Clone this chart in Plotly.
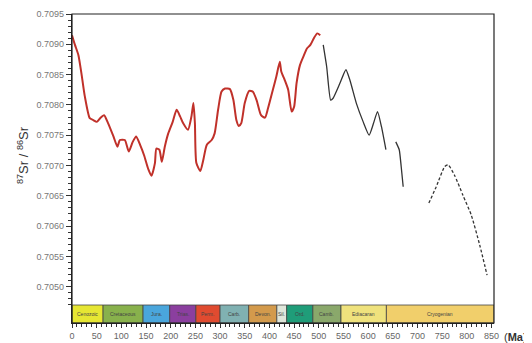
import plotly.graph_objects as go

# ---- data ----
red_age = [0, 6, 13, 20, 26, 36, 43, 50, 57, 65, 73, 84, 92, 97, 107, 115, 123, 130, 138, 146, 155, 161,
           168, 171, 177, 182, 188, 195, 204, 212, 219, 225, 235, 242, 246, 249, 252, 260, 266, 273, 283,
           289, 296, 303, 310, 320, 327, 333, 338, 343, 350, 359, 366, 374, 383, 391, 397, 407, 414, 421,
           424, 431, 438, 445, 450, 455, 462, 470, 476, 483, 490, 497, 503]
red_sr = [0.70915, 0.70899, 0.70882, 0.70847, 0.70814, 0.70778, 0.70775, 0.70772, 0.70778, 0.70783,
          0.70770, 0.70748, 0.70731, 0.70742, 0.70742, 0.70723, 0.70739, 0.70748, 0.70734, 0.70717,
          0.70693, 0.70683, 0.70704, 0.70728, 0.70726, 0.70706, 0.70731, 0.70753, 0.70772, 0.70792,
          0.70781, 0.70770, 0.70759, 0.70781, 0.70803, 0.70770, 0.70704, 0.70691, 0.70709, 0.70734,
          0.70742, 0.70753, 0.70792, 0.70822, 0.70827, 0.70826, 0.70808, 0.70775, 0.70765, 0.70770,
          0.70803, 0.70823, 0.70822, 0.70808, 0.70783, 0.70779, 0.70794, 0.70825, 0.70847, 0.70871,
          0.70855, 0.70841, 0.70825, 0.70789, 0.70797, 0.70836, 0.70866, 0.70882, 0.70893, 0.70899,
          0.70910, 0.70918, 0.70915]

black1_age = [509, 516, 524, 529, 543, 555, 563, 576, 590, 602, 611, 619, 627, 636]
black1_sr = [0.70899, 0.70863, 0.70808, 0.70811, 0.70836, 0.70858, 0.70841, 0.70803, 0.70772,
             0.70750, 0.70770, 0.70789, 0.70764, 0.70726]

black2_age = [656, 663, 667, 671]
black2_sr = [0.70739, 0.70726, 0.70698, 0.70665]

dash_age = [723, 738, 755, 762, 775, 792, 809, 826, 841]
dash_sr = [0.70638, 0.70665, 0.70698, 0.70701, 0.70684, 0.70651, 0.70618, 0.70569, 0.70519]

period_names = ["Cenozoic", "Cretaceous", "Jura.", "Trias.", "Perm.", "Carb.", "Devon.", "Sil.",
                "Ord.", "Camb.", "Ediacaran", "Cryogenian"]
period_start = [0, 63, 144, 198, 251, 300, 358, 415, 435, 488, 545, 637]
period_end = [63, 144, 198, 251, 300, 358, 415, 435, 488, 545, 637, 855]
period_colors = ["#e6e633", "#88b14c", "#4aa6dc", "#8b3f9f", "#e04b30", "#80b1b2", "#d39a4c",
                 "#dfe6da", "#1f9d79", "#8aa86b", "#efe27d", "#f1cf6b"]

x_tick_vals = [0, 50, 100, 150, 200, 250, 300, 350, 400, 450, 500, 550, 600, 650, 700, 750, 800, 850]
y_tick_vals = [0.7050, 0.7055, 0.7060, 0.7065, 0.7070, 0.7075, 0.7080, 0.7085, 0.7090, 0.7095]

# page body has an 8px default margin: size the figure so it fills the 532x343 window
OFF = 8
W, H = 532 - OFF, 343 - OFF
L, R, T, B = 72 - OFF, 38, 14 - OFF, 20
plot_w = W - L - R
plot_h = H - T - B
PX_PER_UNIT = 60.6 / 0.001          # pixels per Sr-ratio unit
y_top = 0.7095
y_bottom = y_top - plot_h / PX_PER_UNIT      # bottom of whole plot (bottom of time bar)
bar_top = y_bottom + 18 / PX_PER_UNIT        # top of the time bar

y_minor = [round(0.7047 + i * 0.0001, 4) for i in range(49)]
y_minor = [v for v in y_minor if v not in y_tick_vals]

fig = go.Figure()
fig.add_trace(go.Scatter(x=red_age, y=red_sr, mode="lines",
                         line=dict(color="#c0312a", width=2, shape="spline", smoothing=0.6),
                         showlegend=False, hoverinfo="skip"))
fig.add_trace(go.Scatter(x=black1_age, y=black1_sr, mode="lines",
                         line=dict(color="#333333", width=1.3, shape="spline", smoothing=0.5),
                         showlegend=False, hoverinfo="skip"))
fig.add_trace(go.Scatter(x=black2_age, y=black2_sr, mode="lines",
                         line=dict(color="#333333", width=1.3, shape="spline", smoothing=0.5),
                         showlegend=False, hoverinfo="skip"))
fig.add_trace(go.Scatter(x=dash_age, y=dash_sr, mode="lines",
                         line=dict(color="#333333", width=1.3, dash="3px,2px", shape="spline", smoothing=0.6),
                         showlegend=False, hoverinfo="skip"))

shapes = []
annotations = []
for name, s, e, c in zip(period_names, period_start, period_end, period_colors):
    shapes.append(dict(type="rect", xref="x", yref="y", x0=s, x1=e, y0=y_bottom, y1=bar_top,
                       fillcolor=c, line=dict(color="#444444", width=0.8), layer="above"))
    annotations.append(dict(x=(s + e) / 2, y=(y_bottom + bar_top) / 2, xref="x", yref="y", text=name,
                            showarrow=False, font=dict(size=5, color="#444444", family="Arial")))
# frame
shapes.append(dict(type="rect", xref="paper", yref="paper", x0=0, x1=1, y0=0, y1=1,
                   line=dict(color="#222222", width=1.2), fillcolor="rgba(0,0,0,0)", layer="above"))

# absolute page pixel -> paper coords
def px_x(p):
    return (p - 72) / plot_w

def px_y(p):
    return (323 - p) / plot_h

annotations.append(dict(x=px_x(13), y=px_y(155), xref="paper", yref="paper",
                        text="<sup>87</sup>Sr / <sup>86</sup>Sr", textangle=-90, showarrow=False,
                        font=dict(size=13, color="#333333", family="Arial")))
annotations.append(dict(x=px_x(502), y=px_y(337), xref="paper", yref="paper",
                        text="(<b>Ma</b>)", showarrow=False, xanchor="left", yanchor="middle",
                        font=dict(size=11, color="#333333", family="Arial")))

fig.update_layout(
    width=W, height=H, margin=dict(l=L, r=R, t=T, b=B, autoexpand=False),
    paper_bgcolor="white", plot_bgcolor="white",
    shapes=shapes, annotations=annotations,
    xaxis=dict(range=[0, 855], tickmode="array", tickvals=x_tick_vals, ticks="outside", ticklen=4,
               tickcolor="#333333", showline=True, linecolor="#222222", linewidth=1, showgrid=False,
               zeroline=False, tickfont=dict(size=9, color="#666666", family="Arial"),
               minor=dict(dtick=10, tick0=0, ticks="outside", ticklen=3, tickcolor="#333333", showgrid=False)),
    yaxis=dict(range=[y_bottom, y_top],
               tickmode="array", tickvals=y_tick_vals, ticktext=[f"{v:.4f}" for v in y_tick_vals],
               ticks="outside", ticklen=5, tickcolor="#333333", showline=True, linecolor="#222222",
               linewidth=1.2, showgrid=False, zeroline=False,
               tickfont=dict(size=9, color="#777777", family="Arial"),
               minor=dict(tickmode="array", tickvals=y_minor, ticks="outside", ticklen=3,
                          tickcolor="#333333", showgrid=False)),
)

fig.write_html("out.html")
